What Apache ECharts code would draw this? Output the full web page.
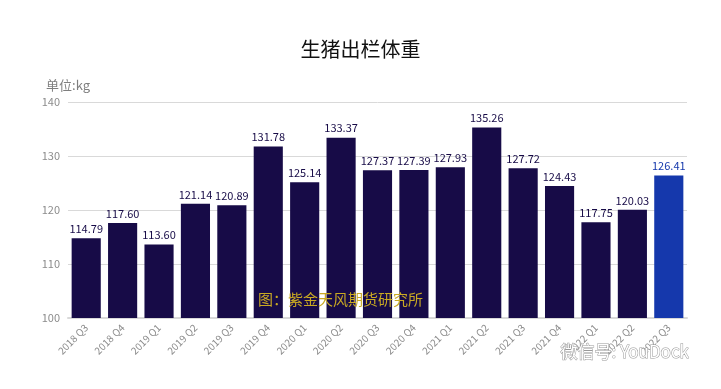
<!DOCTYPE html>
<html><head><meta charset="utf-8">
<script src="https://cdn.jsdelivr.net/npm/echarts@6/dist/echarts.min.js"></script>
<style>html,body{margin:0;padding:0;background:#fff}#c{width:721px;height:389px}</style>
</head><body><div id="c"></div>
<script>
var categories = ["2018 Q3","2018 Q4","2019 Q1","2019 Q2","2019 Q3","2019 Q4","2020 Q1","2020 Q2","2020 Q3","2020 Q4","2021 Q1","2021 Q2","2021 Q3","2021 Q4","2022 Q1","2022 Q2","2022 Q3"];
var values = [114.79,117.60,113.60,121.14,120.89,131.78,125.14,133.37,127.37,127.39,127.93,135.26,127.72,124.43,117.75,120.03,126.41];
var yTicks = [100,110,120,130,140];
var font = '"Microsoft YaHei","Noto Sans CJK SC","Noto Sans",sans-serif';
var chart = echarts.init(document.getElementById('c'));
var last = values.length - 1;
chart.setOption({
  animation:false,
  title:{text:'生猪出栏体重',left:'center',top:34,textStyle:{fontSize:20,fontWeight:'normal',color:'#111',fontFamily:font}},
  grid:{left:68,right:34,top:102,bottom:71},
  xAxis:{type:'category',data:categories,
    axisLine:{lineStyle:{color:'#d9d9d9',width:2}},axisTick:{show:false},
    axisLabel:{rotate:45,color:'#8c8c8c',fontSize:10,fontFamily:font,margin:8,interval:0}},
  yAxis:{type:'value',min:yTicks[0],max:yTicks[yTicks.length-1],interval:10,
    name:'单位:kg',nameLocation:'end',nameGap:10,
    nameTextStyle:{color:'#7f7f7f',fontSize:13,fontFamily:font,align:'right',padding:[0,-22,0,0]},
    axisLine:{show:false},axisTick:{show:false},
    axisLabel:{color:'#8c8c8c',fontSize:11,fontFamily:font,margin:8},
    splitLine:{lineStyle:{color:'#d9d9d9',width:1}}},
  series:[{type:'bar',barCategoryGap:'20%',
    data:values.map(function(v,i){return {value:v,itemStyle:{color:i===last?'#1538AC':'#170B47'},
      label:{color:i===last?'#1538AC':'#170B47'}};}),
    label:{show:true,position:'top',distance:4,fontSize:11,fontFamily:font,
      formatter:function(p){return p.value.toFixed(2);}}
  }],
  graphic:[
    {type:'text',left:258,top:292,z:100,style:{text:'图：紫金天风期货研究所',fill:'#C9A923',font:'15px '+font}},
    {type:'text',left:560,top:343,z:100,style:{text:'微信号: YouDock',fill:'#fff',stroke:'#999',lineWidth:1,font:'17px '+font}}
  ]
});
</script></body></html>
